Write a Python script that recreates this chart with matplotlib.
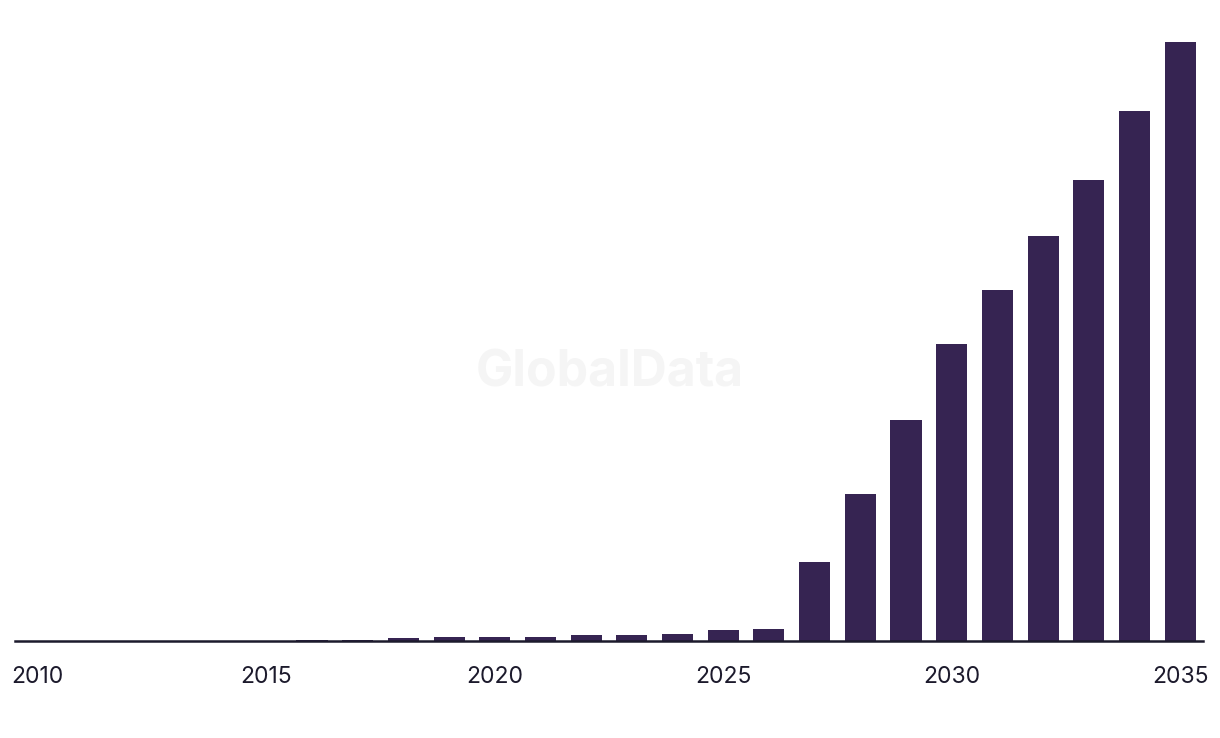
import matplotlib.pyplot as plt

# valores (eixo y sem escala visível)
anos = list(range(2010, 2036))
valores = [0, 0, 0, 0, 0, 0,
           0.25, 0.25, 0.5, 0.6, 0.6, 0.6, 1.0, 1.0, 1.2, 1.8, 2.0,
           13.2, 24.5, 36.8, 49.5, 58.5, 67.5, 76.8, 88.3, 99.8]
anos_rotulos = [2010, 2015, 2020, 2025, 2030, 2035]

cor_barra = "#362452"
cor_texto = "#1c1a2c"

fig = plt.figure(figsize=(12.2, 7.38), dpi=100)
ax = fig.add_axes([15 / 1220, 97 / 738, 1188 / 1220, 641 / 738])

ax.bar(anos, valores, width=0.68, color=cor_barra, zorder=2)

ax.set_xlim(2009.5, 2035.5)
ax.set_ylim(0, 641 / 6)

ax.set_xticks(anos_rotulos)
ax.set_xticklabels([str(a) for a in anos_rotulos], fontsize=16.5, color=cor_texto,
                   family=["Inter", "DejaVu Sans"])
ax.tick_params(axis="x", length=0, pad=18)
ax.set_yticks([])

for lado in ["top", "right", "left"]:
    ax.spines[lado].set_visible(False)
ax.spines["bottom"].set_color(cor_texto)
ax.spines["bottom"].set_linewidth(1.8)
ax.spines["bottom"].set_zorder(3)

# marca d'água
fig.text(610 / 1220, 1 - 373 / 738, "GlobalData", fontsize=36, fontweight="bold",
         color="#f5f5f5", ha="center", va="center", zorder=0,
         family=["Inter", "DejaVu Sans"])

fig.savefig("out.png", dpi=100)
